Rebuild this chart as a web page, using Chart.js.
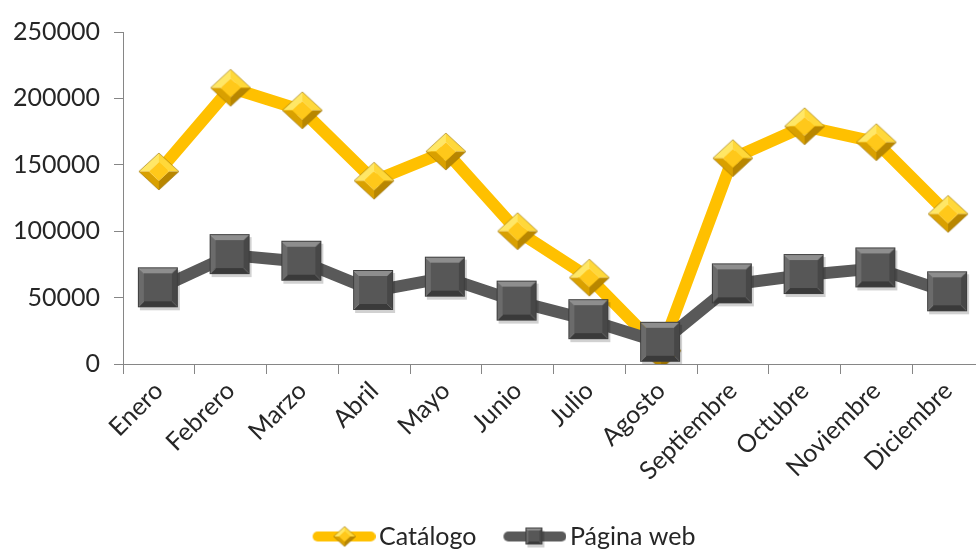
<!DOCTYPE html>
<html><head><meta charset="utf-8">
<script src="https://cdn.jsdelivr.net/npm/chart.js@4"></script>
<style>
html,body{margin:0;padding:0;overflow:hidden;background:#fff;width:976px;height:549px}
#wrap{position:relative;width:1016px;height:549px}
</style>
</head><body><div id="wrap"><canvas id="c" width="1016" height="549"></canvas></div>
<script>
const categories = ['Enero','Febrero','Marzo','Abril','Mayo','Junio','Julio','Agosto','Septiembre','Octubre','Noviembre','Diciembre'];
const catalogo = [145000, 208000, 191000, 138000, 160000, 100000, 65000, 10000, 155000, 179000, 167000, 113000];
const paginaWeb = [57000, 82000, 77000, 55000, 65000, 47000, 33000, 16000, 60000, 67000, 72000, 54000];
const yTickValues = [0, 50000, 100000, 150000, 200000, 250000];
const seriesNames = ['Catálogo', 'Página web'];

const YELLOW = '#FFC000';
const GREY = '#595959';
const FONT = 'Lato, "Liberation Sans", sans-serif';
const TEXT = '#262626';

function diamondImg(w, h) {
  const c = document.createElement('canvas');
  c.width = w + 4; c.height = h + 4;
  const g = c.getContext('2d');
  const cx = c.width / 2, cy = c.height / 2, rx = w / 2, ry = h / 2;
  const ix = rx * 0.5, iy = ry * 0.5;
  const T = [cx, cy - ry], R = [cx + rx, cy], B = [cx, cy + ry], L = [cx - rx, cy];
  const t = [cx, cy - iy], r = [cx + ix, cy], b = [cx, cy + iy], l = [cx - ix, cy];
  function poly(pts, col) { g.beginPath(); g.moveTo(pts[0][0], pts[0][1]); for (let i = 1; i < pts.length; i++) g.lineTo(pts[i][0], pts[i][1]); g.closePath(); g.fillStyle = col; g.fill(); }
  poly([T, t, l, L], '#FFE766');
  poly([T, R, r, t], '#FFD83A');
  poly([R, B, b, r], '#B88600');
  poly([L, l, b, B], '#D9A000');
  poly([t, r, b, l], '#FFC81A');
  g.beginPath(); g.moveTo(T[0], T[1]); g.lineTo(R[0], R[1]); g.lineTo(B[0], B[1]); g.lineTo(L[0], L[1]); g.closePath();
  g.strokeStyle = 'rgba(150,110,0,0.6)'; g.lineWidth = 1; g.stroke();
  return c;
}

function squareImg(s) {
  const c = document.createElement('canvas');
  c.width = s + 6; c.height = s + 6;
  const g = c.getContext('2d');
  const x0 = 2, y0 = 2, x1 = x0 + s, y1 = y0 + s, bv = Math.round(s * 0.16);
  g.fillStyle = 'rgba(0,0,0,0.18)';
  g.fillRect(x0 + 2, y0 + 3, s, s);
  function poly(pts, col) { g.beginPath(); g.moveTo(pts[0][0], pts[0][1]); for (let i = 1; i < pts.length; i++) g.lineTo(pts[i][0], pts[i][1]); g.closePath(); g.fillStyle = col; g.fill(); }
  poly([[x0, y0], [x1, y0], [x1 - bv, y0 + bv], [x0 + bv, y0 + bv]], '#8E8E8E');
  poly([[x1, y0], [x1, y1], [x1 - bv, y1 - bv], [x1 - bv, y0 + bv]], '#474747');
  poly([[x0, y1], [x1, y1], [x1 - bv, y1 - bv], [x0 + bv, y1 - bv]], '#3A3A3A');
  poly([[x0, y0], [x0, y1], [x0 + bv, y1 - bv], [x0 + bv, y0 + bv]], '#6B6B6B');
  g.fillStyle = '#575757';
  g.fillRect(x0 + bv, y0 + bv, s - 2 * bv, s - 2 * bv);
  g.strokeStyle = '#3E3E3E'; g.lineWidth = 1;
  g.strokeRect(x0 + 0.5, y0 + 0.5, s - 1, s - 1);
  return c;
}

function legendImg(color, marker) {
  const I = 91, m = 28, H = 24;
  const c = document.createElement('canvas');
  c.width = I; c.height = H;
  const g = c.getContext('2d');
  g.strokeStyle = color; g.lineWidth = 10; g.lineCap = 'round';
  g.beginPath(); g.moveTo(m + 5, H / 2); g.lineTo(I - 5, H / 2); g.stroke();
  const mx = m + (I - m) / 2;
  g.drawImage(marker, Math.round(mx - marker.width / 2), Math.round(H / 2 - marker.height / 2));
  return c;
}

const dPoint = diamondImg(40, 37);
const sPoint = squareImg(40);
const legendImgs = [legendImg(YELLOW, diamondImg(22, 20)), legendImg(GREY, squareImg(17))];

new Chart(document.getElementById('c'), {
  type: 'line',
  data: {
    labels: categories,
    datasets: [
      { label: seriesNames[0], data: catalogo, borderColor: YELLOW, backgroundColor: YELLOW, borderWidth: 12,
        pointStyle: dPoint, pointRadius: 20, order: 2, tension: 0, borderJoinStyle: 'round' },
      { label: seriesNames[1], data: paginaWeb, borderColor: GREY, backgroundColor: GREY, borderWidth: 12,
        pointStyle: sPoint, pointRadius: 20, order: 1, tension: 0, borderJoinStyle: 'round' }
    ]
  },
  options: {
    responsive: false,
    animation: false,
    devicePixelRatio: 1,
    layout: { padding: { top: 27, right: 27, left: 0, bottom: -10 } },
    plugins: {
      tooltip: { enabled: false },
      legend: {
        position: 'bottom',
        labels: {
          usePointStyle: true,
          pointStyleWidth: 73,
          padding: 8,
          color: TEXT,
          font: { family: FONT, size: 25 },
          generateLabels: (chart) => chart.data.datasets.map((ds, i) => ({
            text: ds.label, pointStyle: legendImgs[i], fillStyle: ds.borderColor, strokeStyle: ds.borderColor,
            lineWidth: 0, hidden: false, datasetIndex: i, fontColor: TEXT
          }))
        }
      }
    },
    scales: {
      x: {
        offset: true,
        grid: { display: true, drawOnChartArea: false, offset: true, tickLength: 10, color: '#868686' },
        border: { color: '#868686', width: 1 },
        ticks: { minRotation: 45, maxRotation: 45, color: TEXT, font: { family: FONT, size: 25 }, padding: 2 },
        afterFit: (a) => { a.height = 152; }
      },
      y: {
        min: 0, max: 250000,
        grid: { display: true, drawOnChartArea: false, tickLength: 9, color: '#868686' },
        border: { color: '#868686', width: 1 },
        afterBuildTicks: (a) => { a.ticks = yTickValues.map(v => ({ value: v })); },
        ticks: { color: TEXT, font: { family: FONT, size: 25 }, padding: 14, callback: (v) => String(v) },
        afterFit: (a) => { a.width = 123; }
      }
    }
  }
});
</script>
</body></html>
